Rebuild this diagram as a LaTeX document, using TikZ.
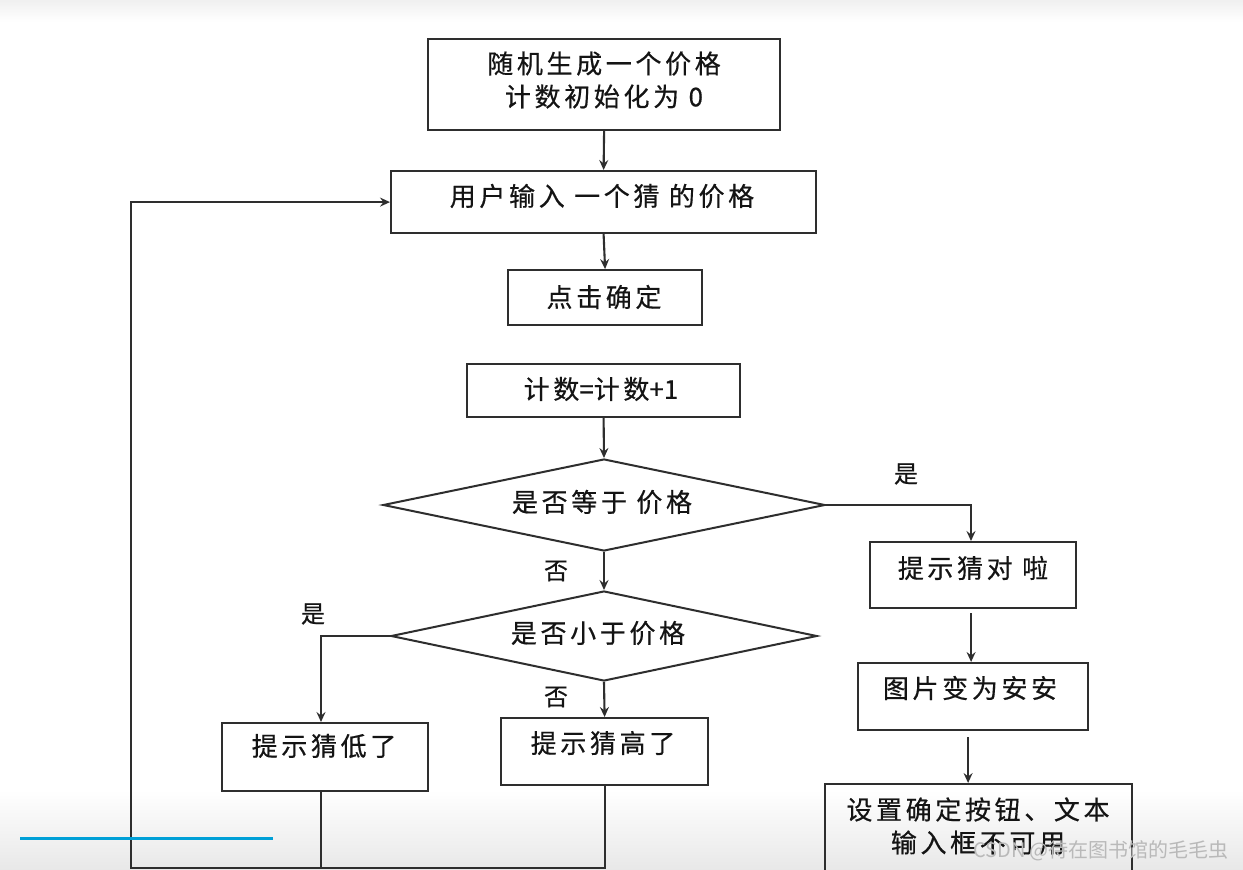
\documentclass[tikz,border=0pt]{standalone}
\usepackage{fontspec}
\setmainfont{Noto Sans CJK SC}[LetterSpace=14,FakeBold=0.5]
\newfontfamily\latin{Noto Sans CJK SC}[FakeBold=0.5]
\newfontfamily\wmfont{Noto Sans CJK SC}
\usetikzlibrary{arrows.meta,shapes.geometric,calc}
\definecolor{ln}{HTML}{2E2E2E}
\definecolor{tx}{HTML}{141414}
\tikzset{
  box/.style={draw=ln,line width=2.2pt,rectangle,anchor=north west,inner sep=0pt},
  dia/.style={draw=ln,line width=2pt,diamond,inner sep=0pt},
  txt/.style={text=tx,font=\fontsize{26}{33}\selectfont,align=center,inner sep=0pt},
  lab/.style={text=tx,font=\fontsize{24}{26}\selectfont,inner sep=0pt},
  conn/.style={draw=ln,line width=2.1pt},
  arr/.style={conn,-{Stealth[length=10pt,width=9pt,inset=3.5pt]}},
}
\begin{document}
\begin{tikzpicture}[x=1pt,y=-1pt]
\useasboundingbox (0,0) rectangle (1243,870);
% background
\fill[white] (0,0) rectangle (1243,870);
\shade[top color=gray!12,bottom color=white] (0,0) rectangle (1243,22);
\shade[top color=white,bottom color=gray!18] (0,790) rectangle (1243,870);

% boxes
\node[box,minimum width=352pt,minimum height=91pt] (b1) at (427,38) {};
\node[box,minimum width=425pt,minimum height=62pt] (b2) at (390,170) {};
\node[box,minimum width=194pt,minimum height=55pt] (b3) at (507,269) {};
\node[box,minimum width=273pt,minimum height=53pt] (b4) at (466,363) {};
\node[dia,minimum width=442pt,minimum height=92pt] (d1) at (604,505) {};
\node[dia,minimum width=426pt,minimum height=90pt] (d2) at (604,636) {};
\node[box,minimum width=206pt,minimum height=66pt] (b5) at (869,541) {};
\node[box,minimum width=230pt,minimum height=67pt] (b8) at (857,662) {};
\node[box,minimum width=307pt,minimum height=95pt] (b9) at (824,783) {};
\node[box,minimum width=206pt,minimum height=68pt] (b6) at (221,722) {};
\node[box,minimum width=207pt,minimum height=67pt] (b7) at (500,717) {};

% texts
\node[txt] (t1) at (604,80) {随机生成一个价格\\计数初始化为 {\latin 0}};
\node[txt] (t2) at (602,196) {用户输入 一个猜 的价格};
\node[txt] (t3) at (604,297) {点击确定};
\node[txt] (t4) at (601,389) {计数{\latin =}计数{\latin +1}};
\node[txt] (t5) at (602,502) {是否等于 价格};
\node[txt] (t6) at (598,633) {是否小于价格};
\node[txt] (t7) at (973,568) {提示猜对 啦};
\node[txt] (t8) at (970,688) {图片变为安安};
\node[txt] (t9) at (978,826) {设置确定按钮、文本\\输入框不可用};
\node[txt] (t10) at (324,746) {提示猜低了};
\node[txt] (t11) at (603,743) {提示猜高了};

% labels
\node[lab] (ly1) at (906,474) {是};
\node[lab] (ln1) at (556,571) {否};
\node[lab] (ly2) at (313,614) {是};
\node[lab] (ln2) at (556,697) {否};

% connectors
\draw[arr] (b1.south) -- (b2.north);
\draw[arr] (b2.south) -- (b3.north);
\draw[arr] (b4.south) -- (d1.north);
\draw[arr] (d1.east) -- ($(d1.east)+(145,0)$) coordinate (c1) -- (c1 |- b5.north);
\draw[arr] (d1.south) -- (d2.north);
\draw[arr] (d2.west) -- ($(d2.west)+(-69,0)$) coordinate (c2) -- (c2 |- b6.north);
\draw[arr] (d2.south) -- (b7.north);
\draw[arr,shorten <=4pt] ($(b5.south)+(-2,0)$) coordinate (c3) -- (c3 |- b8.north);
\draw[arr,shorten <=6pt] ($(b8.south)+(-5,0)$) coordinate (c4) -- (c4 |- b9.north);
\coordinate (lp) at (131,868);
\draw[conn] (c2 |- b6.south) -- (c2 |- lp);
\draw[arr] (b7.south) -- (b7.south |- lp) -- (lp) -- (lp |- b2.west) -- (b2.west);

% overlay
\draw[line width=3pt,color={rgb,255:red,0;green,160;blue,215}] (20,838) -- (273,838);
\node[text=gray!55,font=\wmfont\fontsize{20}{24}\selectfont,inner sep=0pt] (wm) at (1101,851) {CSDN @待在图书馆的毛毛虫};
\end{tikzpicture}
\end{document}
